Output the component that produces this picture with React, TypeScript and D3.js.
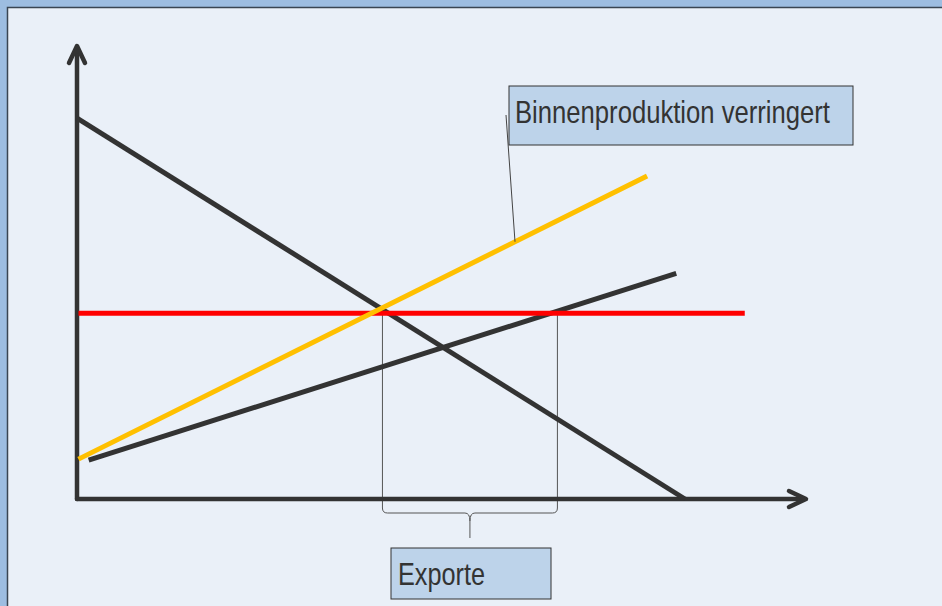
import * as d3 from "d3";

type Pt = { x: number; y: number };

// values (axis units 0..100)
const demand: Pt[] = [
  { x: 0, y: 84.1 },
  { x: 83.4, y: 0 },
];
const supply: Pt[] = [
  { x: 1.6, y: 8.6 },
  { x: 82.2, y: 49.8 },
];
const supplyReduced: Pt[] = [
  { x: 0.2, y: 8.8 },
  { x: 78.2, y: 71.3 },
];
const worldPrice: Pt[] = [
  { x: 0.2, y: 41 },
  { x: 91.6, y: 41 },
];
const exportRange = [41.9, 65.9];
const labelTop = "Binnenproduktion verringert";
const labelBottom = "Exporte";

const W = 942;
const H = 606;
const ML = 77;
const MB = 499;
const MT = 46;
const MR = 806;

const App = () => {
  const x = d3.scaleLinear().domain([0, 100]).range([ML, MR]);
  const y = d3.scaleLinear().domain([0, 100]).range([MB, MT]);
  const line = d3
    .line<Pt>()
    .x((d) => x(d.x))
    .y((d) => y(d.y));

  const dark = "#333333";
  const x0 = x(exportRange[0]);
  const x1 = x(exportRange[1]);
  const xm = (x0 + x1) / 2;
  const by = 513;
  const yPrice = y(worldPrice[0].y);

  const brace = d3.path();
  brace.moveTo(x0, 500);
  brace.lineTo(x0, by - 5);
  brace.quadraticCurveTo(x0, by, x0 + 5, by);
  brace.lineTo(xm - 5, by);
  brace.quadraticCurveTo(xm, by, xm, by + 8);
  brace.lineTo(xm, 538);
  brace.moveTo(xm, by + 8);
  brace.quadraticCurveTo(xm, by, xm + 5, by);
  brace.lineTo(x1 - 5, by);
  brace.quadraticCurveTo(x1, by, x1, by - 5);
  brace.lineTo(x1, 500);

  // leader point on the reduced-supply line
  const leadX = 515;
  const s = supplyReduced;
  const leadY =
    y(s[0].y) +
    ((leadX - x(s[0].x)) / (x(s[1].x) - x(s[0].x))) * (y(s[1].y) - y(s[0].y));

  const font = "'Liberation Sans Narrow', 'Arial Narrow', 'Liberation Sans', Arial, sans-serif";

  return (
    <svg
      width={W}
      height={H}
      viewBox={`0 0 ${W} ${H}`}
      style={{ position: "fixed", left: 0, top: 0 }}
    >
      <rect x={0} y={0} width={W} height={H} fill="#9DBDE1" />
      <rect
        x={7.5}
        y={7.5}
        width={W + 20}
        height={H + 20}
        fill="#EAF0F8"
        stroke="#3A4552"
        strokeWidth={1.5}
      />

      {/* export bounds */}
      <g stroke="#555" strokeWidth={1} fill="none">
        <line x1={x0} x2={x0} y1={yPrice} y2={500} />
        <line x1={x1} x2={x1} y1={yPrice} y2={500} />
        <path d={brace.toString()} />
      </g>

      {/* axes */}
      <g stroke={dark} strokeWidth={4.5} fill="none" strokeLinecap="round" strokeLinejoin="round">
        <line x1={ML} x2={ML} y1={MB} y2={MT + 2} />
        <line x1={ML} x2={MR - 2} y1={MB} y2={MB} />
        <path d={`M${ML - 8},${MT + 17}L${ML},${MT}L${ML + 8},${MT + 17}`} />
        <path d={`M${MR - 17},${MB - 8}L${MR},${MB}L${MR - 17},${MB + 8}`} />
      </g>

      <g fill="none" strokeWidth={5}>
        <path d={line(demand) ?? ""} stroke={dark} />
        <path d={line(supply) ?? ""} stroke={dark} />
        <path d={line(worldPrice) ?? ""} stroke="#FF0000" />
        <path d={line(supplyReduced) ?? ""} stroke="#FFC000" />
      </g>

      {/* label: reduced domestic production */}
      <line x1={506} y1={115} x2={leadX} y2={leadY} stroke="#444" strokeWidth={1} />
      <rect x={509} y={86} width={344} height={59} fill="#BDD3EA" stroke="#333" strokeWidth={1} />
      <text
        x={515}
        y={122.5}
        fontFamily={font}
        fontSize={31.5}
        fill="#333"
        textLength={315}
        lengthAdjust="spacingAndGlyphs"
      >
        {labelTop}
      </text>

      {/* label: exports */}
      <rect x={391} y={548} width={160} height={51} fill="#BDD3EA" stroke="#333" strokeWidth={1} />
      <text
        x={398}
        y={585}
        fontFamily={font}
        fontSize={31.5}
        fill="#333"
        textLength={87}
        lengthAdjust="spacingAndGlyphs"
      >
        {labelBottom}
      </text>
    </svg>
  );
};

export default App;
